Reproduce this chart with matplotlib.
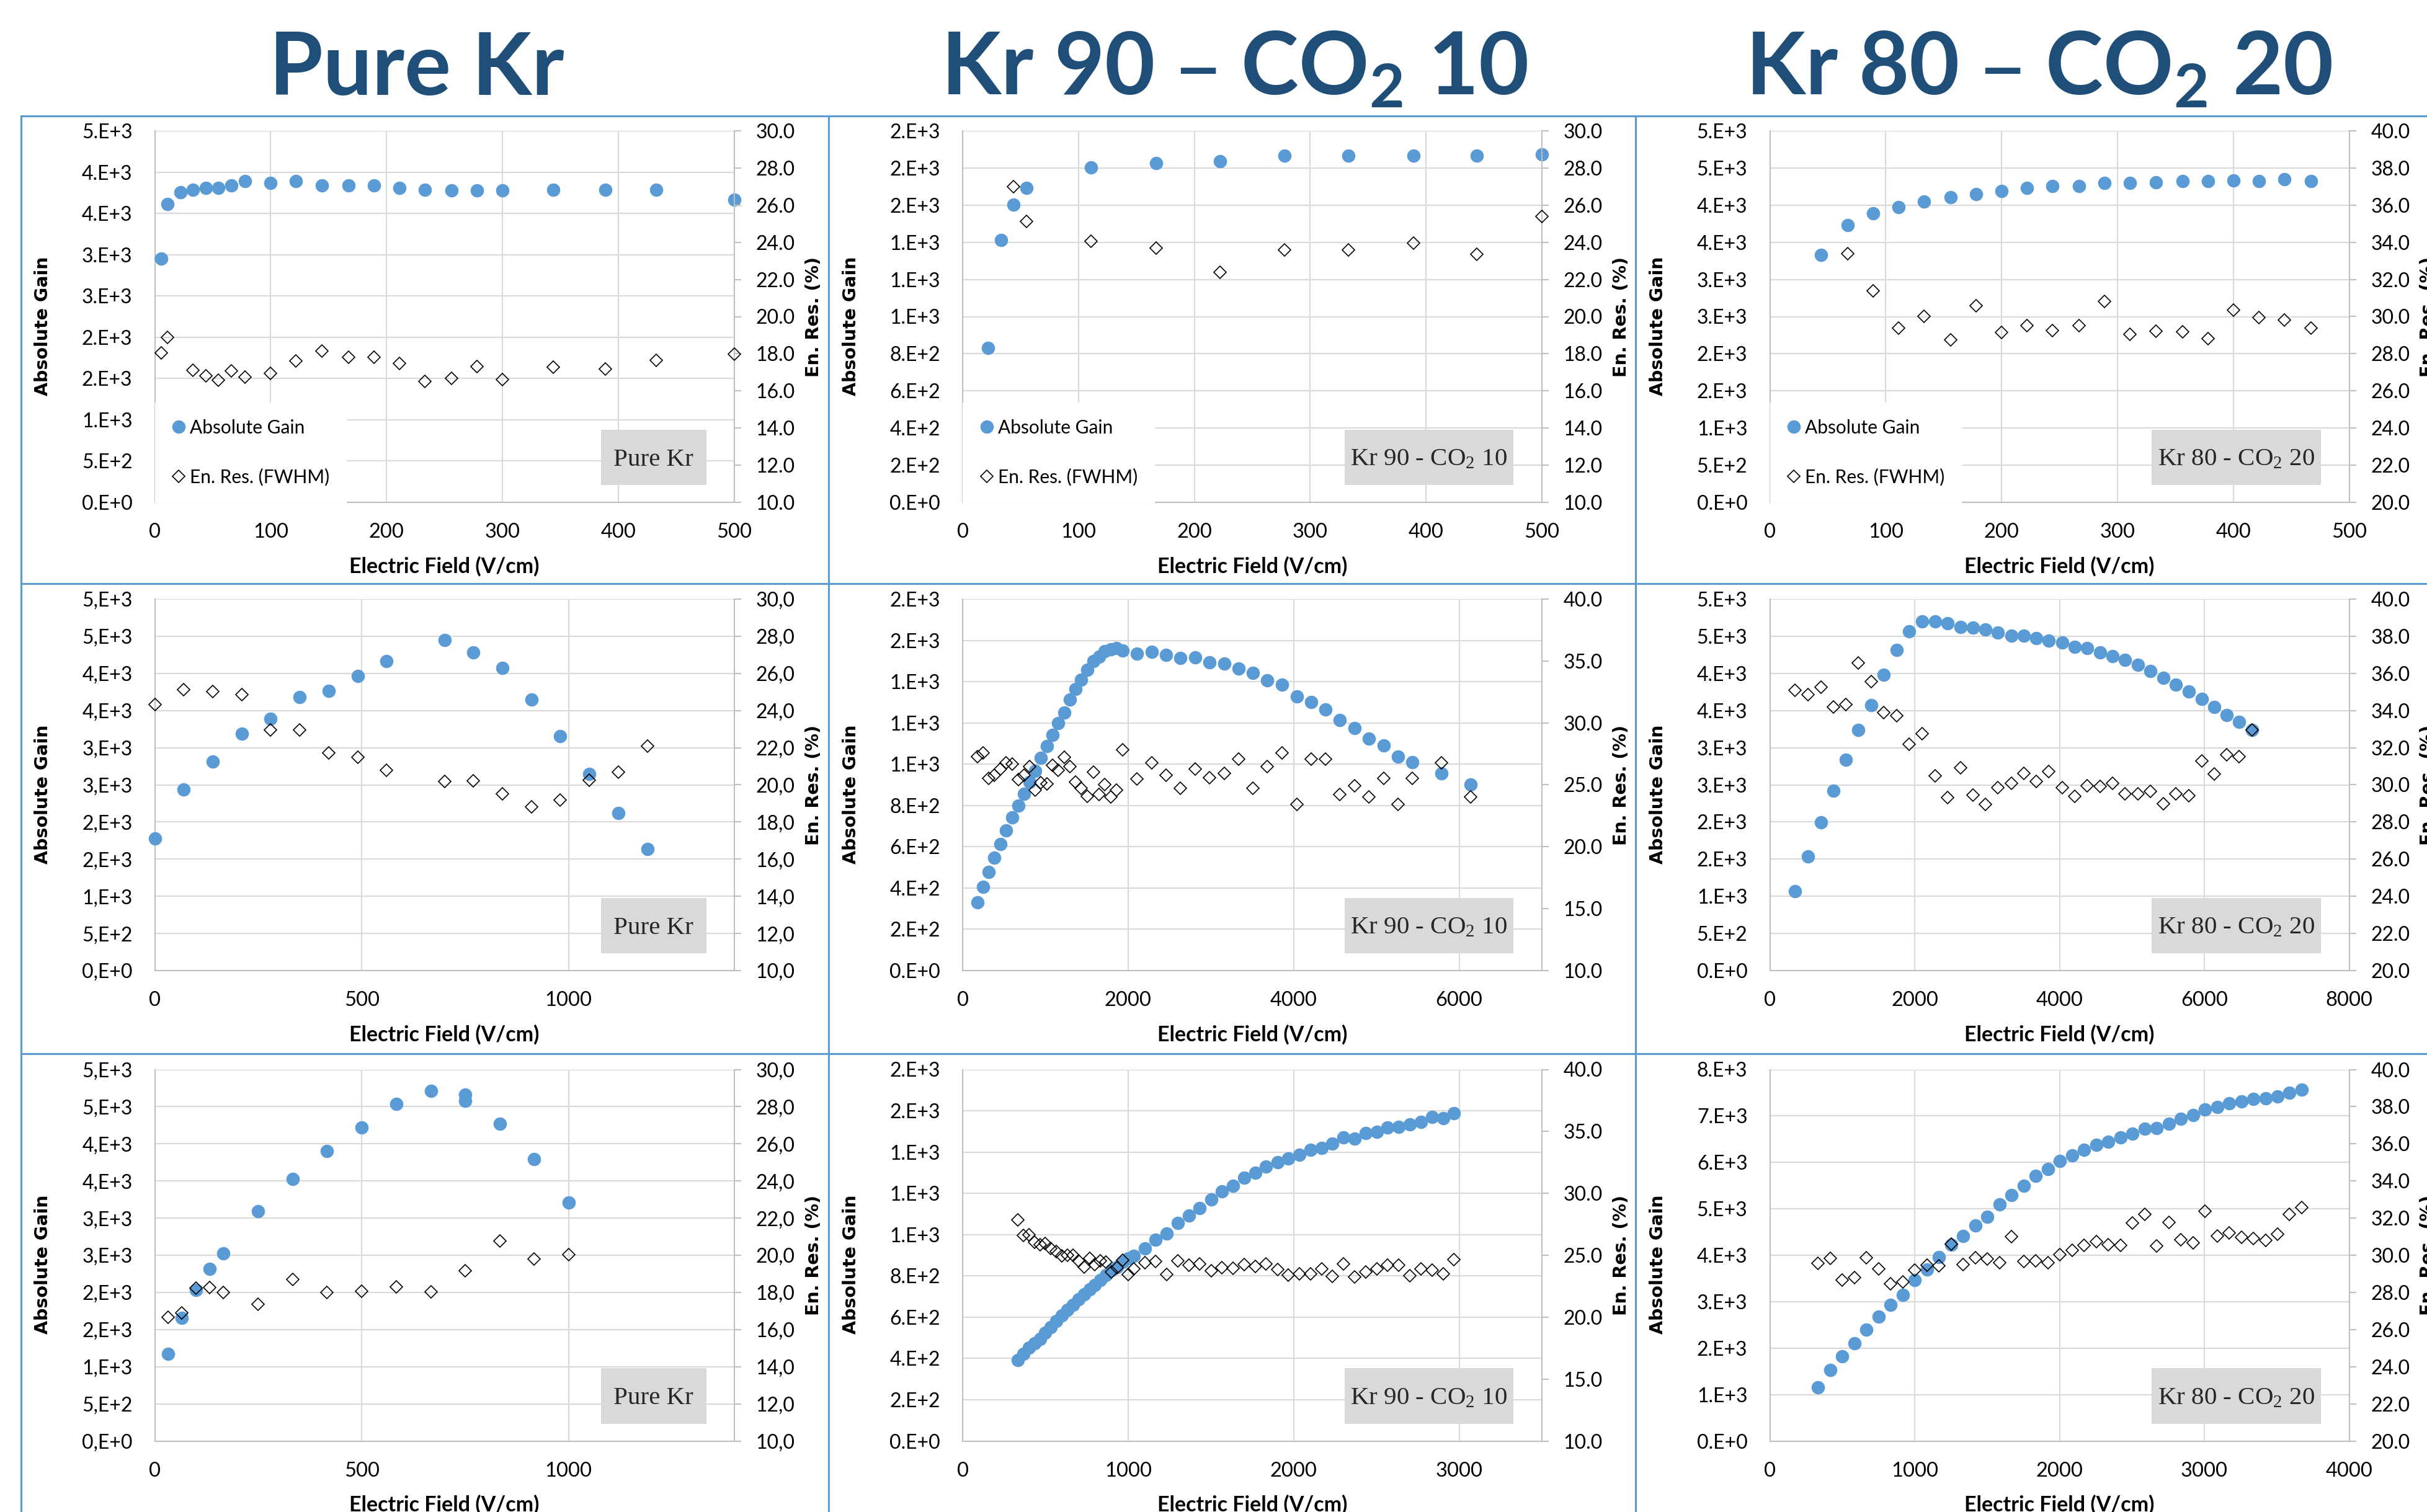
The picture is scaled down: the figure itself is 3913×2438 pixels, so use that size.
import matplotlib
matplotlib.use('Agg')
import matplotlib.pyplot as plt
from matplotlib.lines import Line2D
from matplotlib.patches import Rectangle
import numpy as np

plt.rcParams['font.family'] = ['Lato', 'DejaVu Sans']

BLUE = '#5B9BD5'
TITLE = '#1F4E79'
GRID = '#D9D9D9'
SPINE = '#BFBFBF'
BOX = '#D9D9D9'
BORDER = '#5B9BD5'

titles = ['Pure Kr', 'Kr 90 \u2013 CO$\\mathregular{_2}$ 10', 'Kr 80 \u2013 CO$\\mathregular{_2}$ 20']
tags = ['Pure Kr', 'Kr 90 - CO$\\mathregular{_2}$ 10', 'Kr 80 - CO$\\mathregular{_2}$ 20']
legend_labels = ['Absolute Gain', 'En. Res. (FWHM)']

# row 1 - low field
p1_field = [5.5, 11, 22, 33, 44, 55, 66, 78, 100, 122, 144, 167, 189, 211, 233, 256, 278, 300, 344, 389, 433, 500]
p1_gain = [2950, 3610, 3755, 3785, 3810, 3810, 3840, 3895, 3870, 3895, 3840, 3840, 3840, 3810, 3785, 3780,
           3780, 3780, 3785, 3785, 3785, 3665]
p1_res_field = [5.5, 11, 33, 44, 55, 66, 78, 100, 122, 144, 167, 189, 211, 233, 256, 278, 300, 344, 389, 433, 500]
p1_res = [18.06, 18.87, 17.12, 16.80, 16.57, 17.09, 16.76, 16.93, 17.61, 18.14, 17.82, 17.82, 17.49, 16.52,
          16.67, 17.31, 16.60, 17.27, 17.17, 17.64, 17.99]

p2_field = [22, 33, 44, 55, 111, 167, 222, 278, 333, 389, 444, 500]
p2_gain = [833, 1411, 1604, 1693, 1804, 1828, 1837, 1867, 1867, 1867, 1867, 1872]
p2_res_field = [44, 55, 111, 167, 222, 278, 333, 389, 444, 500]
p2_res = [26.99, 25.13, 24.05, 23.69, 22.39, 23.59, 23.59, 23.95, 23.35, 25.39]

p3_field = [44, 67, 89, 111, 133, 156, 178, 200, 222, 244, 267, 289, 311, 333, 356, 378, 400, 422, 444, 467]
p3_gain = [3329, 3730, 3888, 3972, 4045, 4106, 4150, 4187, 4235, 4260, 4260, 4296, 4296, 4308, 4324, 4324,
           4333, 4328, 4345, 4328]
p3_res_field = [67, 89, 111, 133, 156, 178, 200, 222, 244, 267, 289, 311, 333, 356, 378, 400, 422, 444, 467]
p3_res = [33.40, 31.39, 29.39, 30.03, 28.74, 30.60, 29.14, 29.53, 29.24, 29.53, 30.81, 29.06, 29.21, 29.17,
          28.80, 30.34, 29.95, 29.82, 29.39]

# row 2
p4_field = [0, 70, 140, 210, 280, 350, 420, 490, 560, 700, 770, 840, 910, 980, 1050, 1120, 1190]
p4_gain = [1777, 2437, 2810, 3186, 3393, 3680, 3761, 3964, 4162, 4453, 4279, 4077, 3648, 3158, 2644, 2121, 1632]
p4_res = [24.33, 25.14, 25.04, 24.87, 22.97, 22.96, 21.72, 21.50, 20.77, 20.17, 20.22, 19.51, 18.81, 19.17,
          20.25, 20.70, 22.10]

p5_field = [180, 248, 317, 385, 460, 528, 596, 671, 739, 807, 876, 944, 1019, 1087, 1155, 1230, 1298, 1366,
            1435, 1509, 1578, 1646, 1720, 1789, 1857, 1932, 2106, 2286, 2460, 2634, 2807, 2981, 3161, 3335,
            3509, 3683, 3857, 4037, 4211, 4385, 4559, 4733, 4907, 5087, 5261, 5435, 5783, 6137]
p5_gain = [331, 405, 478, 548, 614, 679, 742, 799, 856, 914, 969, 1030, 1089, 1141, 1200, 1251, 1313, 1364,
           1408, 1458, 1498, 1520, 1549, 1557, 1562, 1551, 1535, 1546, 1530, 1516, 1517, 1494, 1487, 1463,
           1443, 1405, 1385, 1329, 1302, 1265, 1213, 1176, 1125, 1090, 1038, 1010, 955, 901]
p5_res = [27.29, 27.56, 25.52, 25.79, 26.27, 26.76, 26.66, 25.42, 25.79, 26.47, 24.57, 25.18, 25.06, 26.59,
          26.20, 27.25, 26.47, 25.21, 24.74, 24.09, 26.03, 24.21, 25.01, 24.04, 24.57, 27.85, 25.47, 26.76,
          25.79, 24.70, 26.27, 25.59, 25.93, 27.08, 24.70, 26.47, 27.59, 23.41, 27.10, 27.10, 24.23, 24.91,
          24.04, 25.55, 23.41, 25.55, 26.76, 24.04]

p6_field = [348, 529, 703, 877, 1050, 1224, 1398, 1572, 1753, 1927, 2101, 2282, 2456, 2630, 2803, 2977, 3151,
            3332, 3506, 3680, 3854, 4035, 4209, 4383, 4557, 4730, 4904, 5085, 5259, 5433, 5607, 5788, 5962,
            6136, 6310, 6483, 6657]
p6_gain = [1065, 1534, 1992, 2421, 2838, 3239, 3575, 3980, 4312, 4563, 4696, 4696, 4676, 4628, 4615, 4591,
           4547, 4506, 4506, 4474, 4441, 4413, 4360, 4340, 4283, 4235, 4186, 4117, 4028, 3939, 3846, 3757,
           3656, 3547, 3437, 3344, 3239]
p6_res = [35.09, 34.85, 35.26, 34.20, 34.33, 36.55, 35.55, 33.89, 33.72, 32.19, 32.74, 30.49, 29.31, 30.93,
          29.44, 28.96, 29.85, 30.07, 30.62, 30.20, 30.72, 29.85, 29.39, 29.96, 29.91, 30.07, 29.52, 29.52,
          29.64, 28.99, 29.52, 29.43, 31.30, 30.57, 31.61, 31.53, 32.96]

# row 3
p7_field = [32, 65, 99, 132, 166, 249, 333, 416, 500, 583, 667, 750, 750, 834, 917, 1000]
p7_gain = [1173, 1661, 2035, 2319, 2524, 3094, 3528, 3902, 4217, 4535, 4713, 4665, 4579, 4272, 3795, 3213]
p7_res_field = [32, 65, 99, 132, 166, 249, 333, 416, 500, 583, 667, 750, 834, 917, 1000]
p7_res = [16.65, 16.90, 18.22, 18.27, 18.00, 17.37, 18.71, 17.98, 18.05, 18.31, 18.03, 19.18, 20.77, 19.80, 20.02]

p8_field = [333, 367, 400, 433, 467, 500, 533, 567, 600, 633, 667, 700, 733, 767, 800, 833, 867, 900, 933,
            967, 1000, 1033, 1100, 1166, 1234, 1299, 1368, 1433, 1501, 1567, 1635, 1700, 1769, 1834, 1902,
            1968, 2036, 2101, 2170, 2235, 2300, 2369, 2434, 2502, 2568, 2636, 2701, 2770, 2835, 2903, 2969]
p8_gain = [392, 421, 452, 474, 495, 523, 551, 580, 608, 636, 660, 686, 711, 735, 757, 781, 803, 827, 844, 867,
           884, 898, 933, 976, 1004, 1056, 1092, 1127, 1169, 1209, 1237, 1275, 1301, 1329, 1350, 1369, 1386,
           1410, 1421, 1442, 1471, 1464, 1492, 1499, 1520, 1523, 1534, 1546, 1570, 1563, 1587]
p8_res = [27.84, 26.62, 26.66, 26.03, 25.86, 25.96, 25.56, 25.32, 24.97, 25.01, 25.01, 24.54, 24.07, 24.73,
          24.26, 24.54, 24.45, 23.67, 24.02, 24.61, 23.43, 23.91, 24.38, 24.49, 23.43, 24.54, 24.21, 24.31,
          23.74, 23.98, 23.96, 24.26, 24.09, 24.31, 23.83, 23.39, 23.50, 23.50, 23.91, 23.32, 24.31, 23.27,
          23.67, 23.91, 24.21, 24.21, 23.36, 23.91, 23.79, 23.50, 24.66]

p9_field = [334, 417, 501, 584, 668, 751, 835, 918, 1002, 1085, 1169, 1252, 1336, 1419, 1502, 1586, 1669,
            1753, 1836, 1920, 2003, 2086, 2170, 2253, 2337, 2420, 2504, 2587, 2671, 2754, 2838, 2921, 3004,
            3088, 3171, 3255, 3338, 3422, 3505, 3588, 3672]
p9_gain = [1150, 1527, 1822, 2105, 2394, 2677, 2928, 3142, 3463, 3695, 3959, 4229, 4418, 4638, 4826, 5090,
           5291, 5499, 5706, 5863, 6033, 6146, 6272, 6378, 6441, 6536, 6617, 6724, 6743, 6837, 6944, 7013,
           7139, 7195, 7277, 7309, 7371, 7384, 7422, 7497, 7572]
p9_res = [29.55, 29.83, 28.66, 28.80, 29.87, 29.27, 28.45, 28.56, 29.21, 29.47, 29.43, 30.60, 29.51, 29.87,
          29.79, 29.60, 31.01, 29.66, 29.69, 29.60, 30.05, 30.26, 30.54, 30.73, 30.57, 30.54, 31.72, 32.19,
          30.49, 31.78, 30.84, 30.68, 32.38, 31.04, 31.20, 30.97, 30.89, 30.81, 31.15, 32.19, 32.58]

# (field, gain, res field, res, xmax, xstep, ymax, ystep, res lo, res hi, res step, decimal comma)
panels = [
    [(p1_field, p1_gain, p1_res_field, p1_res, 500, 100, 4500, 500, 10, 30, 2, False),
     (p2_field, p2_gain, p2_res_field, p2_res, 500, 100, 2000, 200, 10, 30, 2, False),
     (p3_field, p3_gain, p3_res_field, p3_res, 500, 100, 5000, 500, 20, 40, 2, False)],
    [(p4_field, p4_gain, p4_field, p4_res, 1400, 500, 5000, 500, 10, 30, 2, True),
     (p5_field, p5_gain, p5_field, p5_res, 7000, 2000, 1800, 200, 10, 40, 5, False),
     (p6_field, p6_gain, p6_field, p6_res, 8000, 2000, 5000, 500, 20, 40, 2, False)],
    [(p7_field, p7_gain, p7_res_field, p7_res, 1400, 500, 5000, 500, 10, 30, 2, True),
     (p8_field, p8_gain, p8_field, p8_res, 3500, 1000, 1800, 200, 10, 40, 5, False),
     (p9_field, p9_gain, p9_field, p9_res, 4000, 1000, 8000, 1000, 20, 40, 2, False)],
]


def excel_sci(v, comma):
    # Excel "0.E+0" style
    if abs(v) < 1e-9:
        m, e = 0, 0
    else:
        e = int(np.floor(np.log10(abs(v)) + 1e-12))
        m = int(np.floor(v / 10 ** e + 0.5 + 1e-9))
        if m >= 10:
            m //= 10
            e += 1
    sep = ',' if comma else '.'
    return f"{m}{sep}E+{e}"


W, H = 3913, 2438
fig = plt.figure(figsize=(W / 100, H / 100), dpi=100)
fig.patch.set_facecolor('white')

col_left = [249.6, 1552, 2853.5]
row_bottom = [810, 1565, 2323.5]
ax_w, ax_h = 934, 599
box_x = [(0.77, 0.952), (0.659, 0.951), (0.659, 0.951)]

for r in range(3):
    for c in range(3):
        field, gain, rfield, res, xmax, xstep, ymax, ystep, rlo, rhi, rstep, comma = panels[r][c]
        ax = fig.add_axes([col_left[c] / W, 1 - row_bottom[r] / H, ax_w / W, ax_h / H])
        h1, = ax.plot(field, gain, 'o', color=BLUE, ms=15.5, mew=0, clip_on=False, zorder=3)
        ax.set_xlim(0, xmax)
        ax.set_ylim(0, ymax)
        ax.set_xticks(np.arange(0, xmax + 1, xstep))
        ax.set_yticks(np.arange(0, ymax + 1, ystep))
        ax.set_yticklabels([excel_sci(v, comma) for v in np.arange(0, ymax + 1, ystep)])
        ax.set_axisbelow(True)
        ax.grid(True, color=GRID, lw=1.5)
        for s in ['top', 'right']:
            ax.spines[s].set_visible(False)
        for s in ['left', 'bottom']:
            ax.spines[s].set_color(SPINE)
            ax.spines[s].set_linewidth(1.5)
        ax.tick_params(axis='y', length=0, pad=26, labelsize=23)
        ax.tick_params(axis='x', length=0, pad=24, labelsize=23.5)

        ax2 = ax.twinx()
        h2, = ax2.plot(rfield, res, 'D', mfc='none', mec='black', ms=10.5, mew=1.2, clip_on=False, zorder=3)
        ax2.set_ylim(rlo, rhi)
        rt = np.arange(rlo, rhi + 0.01, rstep)
        ax2.set_yticks(rt)
        ax2.set_yticklabels([(f"{v:.1f}".replace('.', ',') if comma else f"{v:.1f}") for v in rt])
        for s in ['top', 'left', 'bottom']:
            ax2.spines[s].set_visible(False)
        ax2.spines['right'].set_color(SPINE)
        ax2.spines['right'].set_linewidth(1.5)
        ax2.tick_params(axis='y', length=8, width=1.5, color=SPINE, pad=17, labelsize=23)

        ax.text(-0.193, 0.475, 'Absolute Gain', rotation=90, transform=ax.transAxes, ha='center',
                va='center', fontsize=20.5, fontweight='bold', family='DejaVu Sans')
        ax2.text(1.137, 0.5, 'En. Res. (%)', rotation=90, transform=ax2.transAxes, ha='center',
                 va='center', fontsize=20.5, fontweight='bold', family='DejaVu Sans')
        ax.text(0.5, -0.1895, 'Electric Field (V/cm)', transform=ax.transAxes, ha='center',
                va='baseline', fontsize=24.5, fontweight='bold')

        bx0, bx1 = box_x[c]
        ax2.add_patch(Rectangle((bx0, 0.046), bx1 - bx0, 0.15, transform=ax2.transAxes,
                                facecolor=BOX, edgecolor='none', zorder=4))
        ax2.text((bx0 + bx1) / 2, 0.099, tags[c], transform=ax2.transAxes, ha='center', va='baseline',
                 fontsize=29.5, family='Liberation Serif', color='#262626', zorder=5)

        if r == 0:
            leg = ax2.legend([h1, h2], legend_labels, loc='lower left', bbox_to_anchor=(0, 0),
                             bbox_transform=ax2.transAxes, fontsize=21.5, frameon=True, fancybox=False,
                             facecolor='white', edgecolor='white', framealpha=1, borderpad=0.9,
                             labelspacing=1.7, handlelength=0.8, handletextpad=0.2, borderaxespad=0)
            leg.set_zorder(4)

title_x = [0.1716, 0.5086, 0.840]
for t, x in zip(titles, title_x):
    fig.text(x, 0.9374, t, ha='center', va='baseline', fontsize=101, fontweight='bold', color=TITLE,
             family='Lato')

for y in [187, 941, 1699]:
    fig.add_artist(Line2D([34 / W, 1], [1 - y / H] * 2, color=BORDER, lw=2.2))
for x in [34, 1336, 2637]:
    fig.add_artist(Line2D([x / W] * 2, [1 - 187 / H, 0], color=BORDER, lw=2.2))

fig.savefig('out.png', dpi=100, facecolor='white')
